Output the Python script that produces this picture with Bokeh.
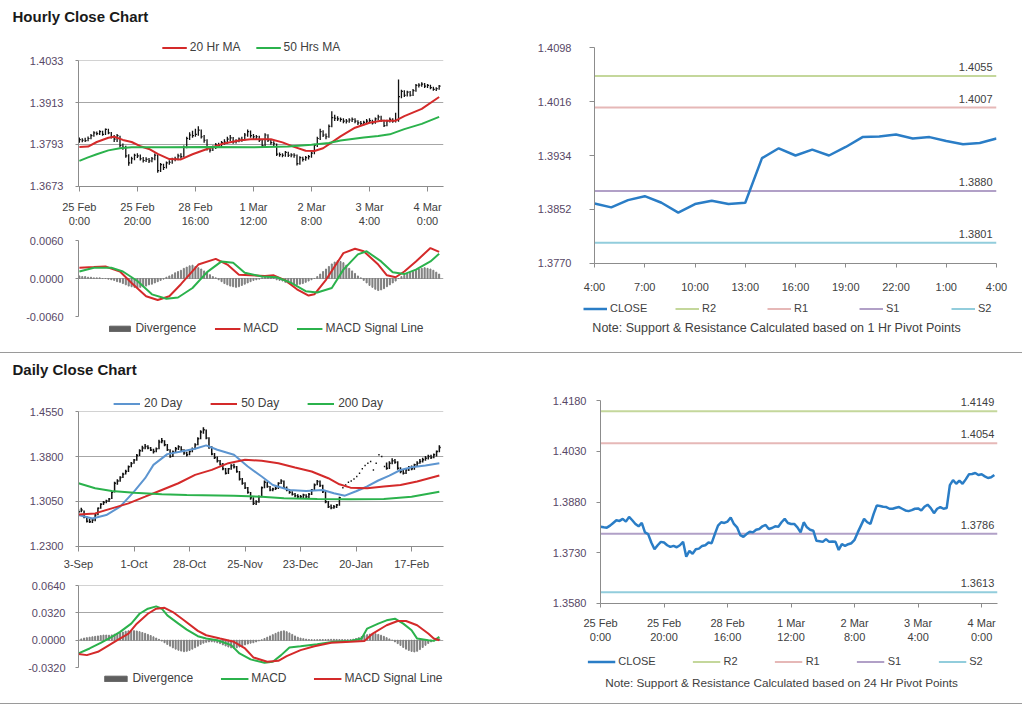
from bokeh.plotting import figure
from bokeh.models import (Range1d, FixedTicker, NumeralTickFormatter, Legend, LegendItem,
                          Div, Label)
from bokeh.embed import file_html
from bokeh.resources import INLINE

FONT = "Liberation Sans"

# ------------------------------------------------------------------ data
hour_tick_pos = [0, 20, 40, 60, 80, 100, 120]
hour_tick_labels = ["25 Feb\n0:00", "25 Feb\n20:00", "28 Feb\n16:00", "1 Mar\n12:00",
                    "2 Mar\n8:00", "3 Mar\n4:00", "4 Mar\n0:00"]

hourly_close = [
    1.3807, 1.3805, 1.3804, 1.3810, 1.3818, 1.3826, 1.3824, 1.3830, 1.3822, 1.3836,
    1.3826, 1.3815, 1.3808, 1.3818, 1.3790, 1.3785, 1.3760, 1.3740, 1.3752, 1.3762,
    1.3760, 1.3752, 1.3747, 1.3750, 1.3746, 1.3752, 1.3762, 1.3718, 1.3735, 1.3727,
    1.3740, 1.3742, 1.3750, 1.3752, 1.3760, 1.3758, 1.3785, 1.3810, 1.3820, 1.3818,
    1.3822, 1.3834, 1.3815, 1.3805, 1.3782, 1.3777, 1.3785, 1.3792, 1.3790, 1.3798,
    1.3800, 1.3808, 1.3812, 1.3800, 1.3803, 1.3808, 1.3807, 1.3820, 1.3830, 1.3818,
    1.3815, 1.3815, 1.3805, 1.3790, 1.3820, 1.3805, 1.3798, 1.3795, 1.3765, 1.3764,
    1.3762, 1.3770, 1.3762, 1.3763, 1.3762, 1.3738, 1.3755, 1.3750, 1.3755, 1.3758,
    1.3768, 1.3790, 1.3810, 1.3830, 1.3820, 1.3815, 1.3845, 1.3870, 1.3868, 1.3866,
    1.3865, 1.3860, 1.3860, 1.3863, 1.3865, 1.3860, 1.3855, 1.3853, 1.3856, 1.3860,
    1.3861, 1.3855, 1.3866, 1.3872, 1.3862, 1.3847, 1.3860, 1.3865, 1.3860, 1.3862,
    1.3930, 1.3945, 1.3934, 1.3943, 1.3934, 1.3947, 1.3962, 1.3963, 1.3966, 1.3960,
    1.3962, 1.3956, 1.3951, 1.3953, 1.3960]
hourly_high = [
    1.3813, 1.3811, 1.3812, 1.3816, 1.3823, 1.3831, 1.3830, 1.3834, 1.3832, 1.3839,
    1.3838, 1.3829, 1.3820, 1.3823, 1.3818, 1.3796, 1.3789, 1.3765, 1.3758, 1.3766,
    1.3768, 1.3764, 1.3757, 1.3756, 1.3754, 1.3757, 1.3767, 1.3765, 1.3740, 1.3738,
    1.3744, 1.3748, 1.3755, 1.3758, 1.3766, 1.3768, 1.3790, 1.3815, 1.3828, 1.3832,
    1.3838, 1.3845, 1.3836, 1.3820, 1.3808, 1.3788, 1.3790, 1.3797, 1.3798, 1.3803,
    1.3808, 1.3815, 1.3820, 1.3814, 1.3808, 1.3813, 1.3815, 1.3826, 1.3836, 1.3833,
    1.3823, 1.3820, 1.3818, 1.3808, 1.3825, 1.3822, 1.3808, 1.3802, 1.3796, 1.3770,
    1.3768, 1.3774, 1.3772, 1.3768, 1.3768, 1.3764, 1.3759, 1.3758, 1.3760, 1.3763,
    1.3772, 1.3795, 1.3815, 1.3838, 1.3834, 1.3824, 1.3850, 1.3888, 1.3878, 1.3874,
    1.3870, 1.3868, 1.3866, 1.3868, 1.3870, 1.3868, 1.3862, 1.3860, 1.3861, 1.3866,
    1.3868, 1.3864, 1.3870, 1.3878, 1.3875, 1.3864, 1.3864, 1.3870, 1.3868, 1.3884,
    1.3979, 1.3950, 1.3948, 1.3947, 1.3946, 1.3952, 1.3966, 1.3968, 1.3971, 1.3969,
    1.3966, 1.3964, 1.3958, 1.3957, 1.3963]
hourly_low = [
    1.3798, 1.3799, 1.3800, 1.3802, 1.3808, 1.3815, 1.3819, 1.3820, 1.3818, 1.3820,
    1.3822, 1.3810, 1.3800, 1.3800, 1.3784, 1.3778, 1.3755, 1.3732, 1.3738, 1.3748,
    1.3754, 1.3747, 1.3741, 1.3743, 1.3740, 1.3742, 1.3748, 1.3712, 1.3714, 1.3720,
    1.3724, 1.3735, 1.3738, 1.3745, 1.3748, 1.3752, 1.3756, 1.3782, 1.3806, 1.3812,
    1.3815, 1.3818, 1.3810, 1.3798, 1.3776, 1.3770, 1.3774, 1.3780, 1.3784, 1.3786,
    1.3792, 1.3795, 1.3803, 1.3795, 1.3796, 1.3799, 1.3801, 1.3804, 1.3815, 1.3812,
    1.3808, 1.3806, 1.3800, 1.3785, 1.3788, 1.3800, 1.3792, 1.3788, 1.3760, 1.3758,
    1.3756, 1.3758, 1.3757, 1.3756, 1.3755, 1.3733, 1.3735, 1.3744, 1.3746, 1.3750,
    1.3755, 1.3765, 1.3786, 1.3806, 1.3814, 1.3808, 1.3812, 1.3842, 1.3860, 1.3860,
    1.3858, 1.3854, 1.3853, 1.3855, 1.3857, 1.3854, 1.3849, 1.3847, 1.3848, 1.3851,
    1.3854, 1.3850, 1.3852, 1.3862, 1.3857, 1.3843, 1.3845, 1.3856, 1.3855, 1.3856,
    1.3858, 1.3925, 1.3929, 1.3930, 1.3930, 1.3932, 1.3944, 1.3956, 1.3958, 1.3955,
    1.3955, 1.3951, 1.3947, 1.3946, 1.3950]

hourly_yticks = [1.3673, 1.3793, 1.3913, 1.4033]
ma20_x = [0, 3, 6, 10, 12, 15, 18, 21, 24, 27, 31, 35, 39, 44, 49, 55, 59, 62, 66, 70,
          74, 78, 81, 84, 87, 90, 95, 100, 104, 109, 112, 118, 124]
ma20 = [1.3786, 1.3787, 1.3800, 1.3812, 1.3815, 1.3806, 1.3800, 1.3788, 1.3780, 1.3766,
        1.3751, 1.3750, 1.3765, 1.3780, 1.3794, 1.3804, 1.3808, 1.3808, 1.3808, 1.3799,
        1.3786, 1.3775, 1.3774, 1.3782, 1.3799, 1.3816, 1.3841, 1.3855, 1.3861, 1.3861,
        1.3874, 1.3895, 1.3929]
ma50_x = [0, 3, 6, 10, 14, 18, 30, 45, 60, 72, 80, 86, 90, 98, 103, 107, 112, 118, 124]
ma50 = [1.3746, 1.3756, 1.3765, 1.3776, 1.3782, 1.3785, 1.3785, 1.3786, 1.3785, 1.3787,
        1.3792, 1.3797, 1.3804, 1.3813, 1.3817, 1.3822, 1.3837, 1.3852, 1.3872]

hmacd_yticks = [-0.0060, 0.0, 0.0060]
hmacd_x = [0, 5, 9, 12, 14, 18, 23, 27, 31, 35, 41, 47, 51, 55, 59, 64, 67, 71, 75, 79,
           81, 85, 91, 95, 98, 103, 106, 109, 112, 116, 121, 124]
hmacd = [0.0017, 0.0018, 0.0019, 0.0014, 0.0011, -0.0007, -0.0028, -0.0034, -0.0028,
         -0.0009, 0.0022, 0.0031, 0.0022, 0.0006, 0.0005, 0.0004, 0.0005, -0.0003, -0.0017,
         -0.0027, -0.0025, -0.0002, 0.0040, 0.0047, 0.0043, 0.0022, 0.0005, 0.0002, 0.0011,
         0.0027, 0.0048, 0.0042]
hsig_x = [0, 5, 11, 15, 20, 25, 30, 34, 39, 44, 49, 53, 57, 63, 68, 73, 78, 82, 87, 91,
          96, 99, 104, 108, 112, 116, 121, 124]
hsig = [0.0011, 0.0017, 0.0017, 0.0011, -0.0004, -0.0025, -0.0032, -0.0030, -0.0015,
        0.0010, 0.0027, 0.0025, 0.0009, 0.0003, 0.0002, -0.0007, -0.0020, -0.0022, -0.0015,
        0.0014, 0.0038, 0.0043, 0.0027, 0.0010, 0.0007, 0.0014, 0.0027, 0.0039]
hdiv = [
    0.0004, 0.0003, 0.0003, 0.0002, 0.0002, 0.0001, 0.0001, 0.0001, 0.0000, 0.0000,
    -0.0001, -0.0002, -0.0003, -0.0005, -0.0006, -0.0008, -0.0010, -0.0012, -0.0013, -0.0014,
    -0.0015, -0.0014, -0.0013, -0.0012, -0.0010, -0.0009, -0.0007, -0.0005, -0.0003, -0.0001,
    0.0002, 0.0004, 0.0006, 0.0009, 0.0011, 0.0013, 0.0016, 0.0018, 0.0020, 0.0021,
    0.0019, 0.0017, 0.0015, 0.0012, 0.0009, 0.0006, 0.0003, 0.0001, -0.0002, -0.0005,
    -0.0008, -0.0010, -0.0012, -0.0013, -0.0014, -0.0013, -0.0011, -0.0009, -0.0007, -0.0005,
    -0.0003, -0.0002, -0.0001, 0.0001, 0.0002, 0.0002, 0.0001, 0.0000, -0.0002, -0.0003,
    -0.0004, -0.0006, -0.0007, -0.0008, -0.0009, -0.0010, -0.0009, -0.0008, -0.0006, -0.0004,
    -0.0002, 0.0000, 0.0003, 0.0007, 0.0011, 0.0015, 0.0019, 0.0023, 0.0026, 0.0028,
    0.0027, 0.0025, 0.0021, 0.0016, 0.0012, 0.0008, 0.0004, 0.0001, -0.0003, -0.0007,
    -0.0011, -0.0014, -0.0017, -0.0019, -0.0018, -0.0016, -0.0013, -0.0010, -0.0007, -0.0004,
    0.0000, 0.0003, 0.0005, 0.0007, 0.0009, 0.0011, 0.0013, 0.0015, 0.0016, 0.0017,
    0.0016, 0.0015, 0.0013, 0.0010, 0.0007]

pivot1h_tick_pos = [0, 3, 6, 9, 12, 15, 18, 21, 24]
pivot1h_tick_labels = ["4:00", "7:00", "10:00", "13:00", "16:00", "19:00", "22:00", "1:00", "4:00"]
pivot1h_yticks = [1.3770, 1.3852, 1.3934, 1.4016, 1.4098]
pivot1h_levels = [1.4055, 1.4007, 1.3880, 1.3801]
pivot24_yticks = [1.3580, 1.3730, 1.3880, 1.4030, 1.4180]
pivot24_levels = [1.4149, 1.4054, 1.3786, 1.3613]
pivot_names = ["R2", "R1", "S1", "S2"]

day_tick_pos = [0, 20, 40, 60, 80, 100, 120]
day_tick_labels = ["3-Sep", "1-Oct", "28-Oct", "25-Nov", "23-Dec", "20-Jan", "17-Feb"]
daily_yticks = [1.2300, 1.3050, 1.3800, 1.4550]
daily_close = [
    1.2879, 1.2907, 1.2795, 1.2722, 1.2711, 1.2739, 1.2823, 1.2935, 1.3002, 1.3035,
    1.3058, 1.3091, 1.3203, 1.3354, 1.3393, 1.3449, 1.3505, 1.3550, 1.3628, 1.3684,
    1.3740, 1.3818, 1.3896, 1.3941, 1.3969, 1.3941, 1.3907, 1.3885, 1.3930, 1.4041,
    1.4064, 1.3997, 1.3913, 1.3801, 1.3874, 1.3930, 1.3963, 1.3913, 1.3857, 1.3829,
    1.3885, 1.3930, 1.3997, 1.4097, 1.4209, 1.4248, 1.4108, 1.3952, 1.3840, 1.3784,
    1.3728, 1.3673, 1.3594, 1.3522, 1.3594, 1.3650, 1.3628, 1.3550, 1.3427, 1.3354,
    1.3281, 1.3203, 1.3113, 1.3019, 1.3046, 1.3130, 1.3281, 1.3371, 1.3298, 1.3242,
    1.3259, 1.3270, 1.3354, 1.3393, 1.3281, 1.3242, 1.3203, 1.3170, 1.3147, 1.3130,
    1.3130, 1.3158, 1.3130, 1.3170, 1.3242, 1.3326, 1.3382, 1.3315, 1.3214, 1.3046,
    1.2962, 1.2946, 1.2962, 1.2991, 1.3113, 1.3281, 1.3326, 1.3371, 1.3393, 1.3427,
    1.3466, 1.3522, 1.3594, 1.3650, 1.3689, 1.3718, 1.3577, 1.3689, 1.3829, 1.3801,
    1.3633, 1.3606, 1.3689, 1.3728, 1.3706, 1.3606, 1.3550, 1.3522, 1.3577, 1.3617,
    1.3594, 1.3661, 1.3689, 1.3718, 1.3745, 1.3773, 1.3801, 1.3784, 1.3829, 1.3885,
    1.3950]
daily_high = [
    1.2920, 1.2945, 1.2900, 1.2800, 1.2760, 1.2770, 1.2840, 1.2950, 1.3020, 1.3060,
    1.3080, 1.3110, 1.3220, 1.3380, 1.3420, 1.3470, 1.3530, 1.3580, 1.3650, 1.3710,
    1.3760, 1.3840, 1.3920, 1.3980, 1.4010, 1.3990, 1.3960, 1.3930, 1.3950, 1.4080,
    1.4110, 1.4070, 1.4010, 1.3920, 1.3900, 1.3960, 1.3990, 1.3970, 1.3920, 1.3880,
    1.3900, 1.3950, 1.4020, 1.4120, 1.4240, 1.4290, 1.4250, 1.4120, 1.3970, 1.3860,
    1.3800, 1.3740, 1.3690, 1.3610, 1.3610, 1.3670, 1.3680, 1.3640, 1.3560, 1.3440,
    1.3370, 1.3290, 1.3210, 1.3120, 1.3070, 1.3150, 1.3300, 1.3400, 1.3380, 1.3310,
    1.3280, 1.3300, 1.3370, 1.3420, 1.3400, 1.3300, 1.3260, 1.3220, 1.3190, 1.3170,
    1.3160, 1.3180, 1.3170, 1.3190, 1.3260, 1.3350, 1.3410, 1.3400, 1.3330, 1.3230,
    1.3060, 1.3000, 1.2990, 1.3010, 1.3130, 1.3281, 1.3326, 1.3371, 1.3393, 1.3427,
    1.3466, 1.3522, 1.3594, 1.3650, 1.3689, 1.3718, 1.3577, 1.3689, 1.3829, 1.3801,
    1.3633, 1.3700, 1.3720, 1.3770, 1.3760, 1.3720, 1.3620, 1.3580, 1.3600, 1.3640,
    1.3650, 1.3680, 1.3720, 1.3760, 1.3780, 1.3810, 1.3830, 1.3830, 1.3850, 1.3900,
    1.3990]
daily_low = [
    1.2850, 1.2870, 1.2770, 1.2700, 1.2690, 1.2690, 1.2720, 1.2820, 1.2930, 1.2990,
    1.3020, 1.3040, 1.3090, 1.3200, 1.3330, 1.3380, 1.3440, 1.3500, 1.3540, 1.3620,
    1.3680, 1.3730, 1.3810, 1.3880, 1.3920, 1.3920, 1.3890, 1.3850, 1.3870, 1.3920,
    1.4020, 1.3970, 1.3890, 1.3780, 1.3790, 1.3860, 1.3910, 1.3890, 1.3830, 1.3800,
    1.3820, 1.3870, 1.3920, 1.3990, 1.4090, 1.4180, 1.4090, 1.3930, 1.3820, 1.3760,
    1.3700, 1.3650, 1.3570, 1.3500, 1.3510, 1.3580, 1.3600, 1.3530, 1.3400, 1.3330,
    1.3260, 1.3180, 1.3080, 1.2990, 1.2990, 1.3030, 1.3120, 1.3270, 1.3280, 1.3220,
    1.3220, 1.3240, 1.3260, 1.3340, 1.3260, 1.3220, 1.3180, 1.3150, 1.3120, 1.3100,
    1.3100, 1.3110, 1.3100, 1.3110, 1.3160, 1.3230, 1.3320, 1.3290, 1.3190, 1.3020,
    1.2940, 1.2920, 1.2930, 1.2940, 1.2980, 1.3281, 1.3326, 1.3371, 1.3393, 1.3427,
    1.3466, 1.3522, 1.3594, 1.3650, 1.3689, 1.3718, 1.3577, 1.3689, 1.3829, 1.3801,
    1.3633, 1.3580, 1.3590, 1.3670, 1.3680, 1.3580, 1.3520, 1.3500, 1.3510, 1.3560,
    1.3570, 1.3580, 1.3640, 1.3680, 1.3700, 1.3730, 1.3750, 1.3760, 1.3770, 1.3800,
    1.3870]
d20_x = [0, 5, 10, 15, 20, 24, 27, 32, 37, 42, 46, 50, 56, 61, 66, 70, 76, 82, 88, 92,
         96, 100, 104, 108, 112, 116, 120, 125, 130]
d20 = [1.2823, 1.2767, 1.2823, 1.2963, 1.3214, 1.3438, 1.3661, 1.3840, 1.3885, 1.3930,
       1.3986, 1.3913, 1.3829, 1.3633, 1.3466, 1.3326, 1.3242, 1.3225, 1.3242, 1.3186,
       1.3147, 1.3220, 1.3300, 1.3400, 1.3480, 1.3575, 1.3620, 1.3650, 1.3689]
d50_x = [0, 6, 12, 18, 24, 30, 36, 42, 48, 54, 60, 66, 72, 78, 84, 90, 94, 98, 104, 110,
         116, 122, 130]
d50 = [1.2834, 1.2851, 1.2935, 1.3019, 1.3130, 1.3242, 1.3354, 1.3494, 1.3577, 1.3689,
       1.3745, 1.3728, 1.3689, 1.3617, 1.3550, 1.3438, 1.3337, 1.3281, 1.3270, 1.3298,
       1.3326, 1.3382, 1.3483]
d200_x = [0, 6, 12, 20, 30, 39, 56, 66, 74, 86, 98, 110, 120, 130]
d200 = [1.3354, 1.3270, 1.3225, 1.3197, 1.3170, 1.3158, 1.3147, 1.3130, 1.3102, 1.3091,
        1.3086, 1.3091, 1.3130, 1.3214]

dmacd_yticks = [-0.0320, 0.0, 0.0320, 0.0640]
dmacd_x = [0, 4, 8, 12, 15, 19, 22, 25, 28, 30, 32, 36, 39, 43, 46, 50, 55, 58, 62, 67,
           70, 73, 76, 80, 86, 92, 98, 102, 104, 108, 111, 114, 117, 120, 122, 126, 128, 130]
dmacd = [-0.0155, -0.0097, -0.0031, 0.0039, 0.0097, 0.0194, 0.0310, 0.0369, 0.0396, 0.0369,
         0.0291, 0.0194, 0.0124, 0.0047, 0.0019, 0.0000, -0.0058, -0.0155, -0.0225, -0.0264,
         -0.0252, -0.0175, -0.0085, -0.0070, -0.0047, -0.0019, -0.0008, 0.0019, 0.0136, 0.0194,
         0.0233, 0.0252, 0.0194, 0.0116, 0.0019, 0.0000, -0.0008, 0.0039]
dsig_x = [0, 3, 7, 10, 14, 18, 21, 25, 28, 31, 34, 38, 43, 46, 51, 56, 60, 63, 68, 72,
          75, 80, 85, 91, 98, 103, 106, 111, 115, 118, 122, 126, 128, 130]
dsig = [-0.0163, -0.0175, -0.0136, -0.0078, 0.0000, 0.0078, 0.0194, 0.0310, 0.0369, 0.0380,
        0.0330, 0.0233, 0.0109, 0.0058, 0.0019, -0.0019, -0.0097, -0.0202, -0.0252, -0.0241,
        -0.0186, -0.0116, -0.0070, -0.0031, -0.0019, -0.0008, 0.0078, 0.0175, 0.0225, 0.0225,
        0.0175, 0.0078, 0.0019, 0.0000]
ddiv = [
    0.0008, 0.0015, 0.0025, 0.0030, 0.0035, 0.0040, 0.0045, 0.0050, 0.0055, 0.0060,
    0.0060, 0.0058, 0.0062, 0.0070, 0.0078, 0.0085, 0.0095, 0.0105, 0.0110, 0.0115,
    0.0112, 0.0108, 0.0100, 0.0090, 0.0080, 0.0068, 0.0055, 0.0040, 0.0025, 0.0010,
    -0.0010, -0.0030, -0.0050, -0.0070, -0.0090, -0.0105, -0.0118, -0.0128, -0.0135, -0.0130,
    -0.0120, -0.0105, -0.0088, -0.0070, -0.0050, -0.0035, -0.0025, -0.0020, -0.0018, -0.0022,
    -0.0030, -0.0040, -0.0055, -0.0068, -0.0080, -0.0090, -0.0095, -0.0090, -0.0080, -0.0068,
    -0.0055, -0.0045, -0.0035, -0.0030, -0.0020, -0.0008, 0.0005, 0.0020, 0.0035, 0.0050,
    0.0065, 0.0080, 0.0095, 0.0105, 0.0110, 0.0100, 0.0085, 0.0068, 0.0050, 0.0035,
    0.0025, 0.0018, 0.0012, 0.0008, 0.0006, 0.0005, 0.0006, 0.0007, 0.0008, 0.0008,
    0.0009, 0.0010, 0.0010, 0.0009, 0.0008, 0.0007, 0.0006, 0.0006, 0.0008, 0.0012,
    0.0020, 0.0030, 0.0042, 0.0055, 0.0065, 0.0072, 0.0078, 0.0075, 0.0068, 0.0058,
    0.0045, 0.0030, 0.0015, 0.0000, -0.0020, -0.0040, -0.0062, -0.0085, -0.0105, -0.0120,
    -0.0132, -0.0138, -0.0130, -0.0110, -0.0085, -0.0060, -0.0038, -0.0020, -0.0008, 0.0005,
    0.0015]

# ------------------------------------------------------------------ styles
AX = "#8c8c8c"
GRID = "#a6a6a6"
TXT = "#404040"
YTXT = "#574766"
RED = "#d42a2a"
GREEN = "#2bb24c"
BLUE20 = "#5d95d0"
CLOSE_C = "#2a7dc6"
DIV_C = "#7f7f7f"
DIV_KEY = "#5f5f5f"
PIVOT_COLORS = ["#c4d79b", "#e6b8b7", "#b1a0c7", "#92cddc"]

hours = list(range(len(hourly_close)))
days = list(range(len(daily_close)))


def pos(left, top):
    return {"position": "absolute", "left": f"{left}px", "top": f"{top}px"}


def base(left, top, width, height, xr, yr, bl, br, bt, bb, x_axis=True):
    p = figure(width=width, height=height, x_range=xr, y_range=yr,
               output_backend="svg", toolbar_location=None,
               min_border_left=bl, min_border_right=br,
               min_border_top=bt, min_border_bottom=bb,
               x_axis_type="linear" if x_axis else None,
               styles=pos(left, top))
    p.outline_line_color = None
    p.background_fill_color = "white"
    p.border_fill_color = None
    return p


def style_axis(ax, color, tick_out, standoff):
    ax.axis_line_color = AX
    ax.major_tick_line_color = AX
    ax.major_tick_out = tick_out
    ax.major_tick_in = 0
    ax.minor_tick_line_color = None
    ax.major_label_text_font = FONT
    ax.major_label_text_font_size = "11px"
    ax.major_label_text_color = color
    ax.major_label_standoff = standoff


def y_setup(p, ticks, grid=True, tick_out=3, standoff=12):
    p.yaxis.ticker = FixedTicker(ticks=ticks)
    p.yaxis.formatter = NumeralTickFormatter(format="0.0000")
    style_axis(p.yaxis[0], YTXT, tick_out, standoff)
    if grid:
        p.ygrid.ticker = FixedTicker(ticks=ticks)
        p.ygrid.grid_line_color = GRID
    else:
        p.ygrid.visible = False


def x_setup(p, tpos, labels, tick_out, standoff):
    p.xaxis.ticker = FixedTicker(ticks=tpos)
    p.xaxis.major_label_overrides = {k: v for k, v in zip(tpos, labels)}
    style_axis(p.xaxis[0], TXT, tick_out, standoff)
    p.xgrid.visible = False


def blank(left, top, width, height, xr=None, yr=None):
    f = figure(width=width, height=height,
               x_range=xr if xr is not None else Range1d(0, 1),
               y_range=yr if yr is not None else Range1d(0, 1),
               output_backend="svg", toolbar_location=None, min_border=0,
               x_axis_type=None, y_axis_type=None, styles=pos(left, top))
    f.outline_line_color = None
    f.border_fill_color = None
    f.background_fill_color = None
    return f


def text_fig(text, left, top, width, height=20, size="11px", bold=False, align="left"):
    f = blank(left, top, width, height)
    f.add_layout(Label(x=0.5 if align == "center" else 0, y=0.5, text=text,
                       text_align=align, text_font=FONT, text_font_size=size,
                       text_font_style="bold" if bold else "normal",
                       text_color="#1a1a1a" if bold else TXT, text_baseline="middle"))
    return f


def legend_fig(cx, cy, entries, glyph_width=25, spacing=18, label_width=0,
               standoff=3, size="12px", width=480):
    """A key strip.  entries: (label, kind, colour, width, xs, ys) - each swatch is the
    chart's own series, drawn into a y window that lies above all of its values so that
    only the key shows."""
    f = blank(cx - width // 2, cy - 8, width, 16, yr=Range1d(10, 11))
    items = []
    for label, kind, color, lw, xs, ys in entries:
        if kind == "bar":
            r = f.vbar(x=xs, top=ys, bottom=0, width=0.5, fill_color=color, line_color=color)
        else:
            r = f.line(x=xs, y=ys, line_color=color, line_width=lw)
        items.append(LegendItem(label=label, renderers=[r]))
    f.add_layout(Legend(items=items, orientation="horizontal", location="center",
                        label_text_font=FONT, label_text_font_size=size,
                        label_text_color=TXT, glyph_width=glyph_width, glyph_height=7,
                        label_height=12, label_width=label_width, label_standoff=standoff,
                        padding=0, spacing=spacing, margin=0,
                        border_line_color=None, background_fill_alpha=0))
    return f


def level_labels(p, x, levels, x_offset):
    for lvl in levels:
        p.add_layout(Label(x=x, y=lvl, text=f"{lvl:.4f}", text_align="right",
                           text_baseline="middle", x_offset=x_offset, y_offset=9,
                           text_font=FONT, text_font_size="11px", text_color=TXT))


# ------------------------------------------------------------------ hourly main
hx = Range1d(-0.3, 125.5)
p1 = base(8, 32, 502, 204, hx, Range1d(1.36725, 1.40335), 70, 67, 28, 50)
y_setup(p1, hourly_yticks)
x_setup(p1, hour_tick_pos, hour_tick_labels, 5, 9)
p1.segment(x0=hours, y0=hourly_low, x1=hours, y1=hourly_high, line_color="#111111", line_width=1.3)
p1.segment(x0=hours, y0=hourly_close, x1=[h + 0.5 for h in hours], y1=hourly_close,
           line_color="#111111", line_width=1.2)
p1.line(ma20_x, ma20, line_color=RED, line_width=2)
p1.line(ma50_x, ma50, line_color=GREEN, line_width=2)
lg1 = legend_fig(251, 47, [("20 Hr MA", "line", RED, 2, ma20_x, ma20),
                           ("50 Hrs MA", "line", GREEN, 2, ma50_x, ma50)], spacing=15)

# ------------------------------------------------------------------ hourly macd
p2 = base(8, 236, 502, 108, hx, Range1d(-0.0060, 0.0060), 70, 67, 4, 28, x_axis=False)
y_setup(p2, hmacd_yticks)
p2.vbar(x=hours, top=hdiv, bottom=0, width=0.35, color=DIV_C)
p2.line(hmacd_x, hmacd, line_color=RED, line_width=2)
p2.line(hsig_x, hsig, line_color=GREEN, line_width=2)
lg2 = legend_fig(265, 328, [("Divergence", "bar", DIV_KEY, 0, hours, hdiv),
                            ("MACD", "line", RED, 2, hmacd_x, hmacd),
                            ("MACD Signal Line", "line", GREEN, 2, hsig_x, hsig)],
                 glyph_width=26, spacing=18)

# ------------------------------------------------------------------ 1 hr pivot
pv_close = hourly_close[-25:]
pv_x = list(range(len(pv_close)))
p3 = base(510, 8, 506, 336, Range1d(0, 24), Range1d(1.37695, 1.40985), 84, 20, 39, 81)
y_setup(p3, pivot1h_yticks, grid=False, tick_out=5, standoff=18)
x_setup(p3, pivot1h_tick_pos, pivot1h_tick_labels, 4, 13)
lv1_x = [p3.x_range.start, p3.x_range.end]
for lvl, col in zip(pivot1h_levels, PIVOT_COLORS):
    p3.line(lv1_x, [lvl, lvl], line_color=col, line_width=2)
level_labels(p3, pv_x[-1], pivot1h_levels, -4)
p3.line(pv_x, pv_close, line_color=CLOSE_C, line_width=2.5)
lg3 = legend_fig(808, 308, [("CLOSE", "line", CLOSE_C, 2.5, pv_x, pv_close)] +
                 [(n, "line", c, 2, lv1_x, [v, v])
                  for n, c, v in zip(pivot_names, PIVOT_COLORS, pivot1h_levels)],
                 glyph_width=24, spacing=10, label_width=55, size="11px")
note3 = text_fig("Note: Support & Resistance Calculated based on 1 Hr Pivot Points",
                 526, 317, 500, size="12.5px", align="center")

# ------------------------------------------------------------------ daily main
dx = Range1d(0, 131.5)
p4 = base(8, 377, 502, 201, dx, Range1d(1.2299, 1.4551), 70, 67, 34, 32)
y_setup(p4, daily_yticks)
x_setup(p4, day_tick_pos, day_tick_labels, 5, 6)
p4.segment(x0=days, y0=daily_low, x1=days, y1=daily_high, line_color="#111111", line_width=1.5)
p4.segment(x0=days, y0=daily_close, x1=[d + 0.5 for d in days], y1=daily_close,
           line_color="#111111", line_width=1.5)
p4.line(d20_x, d20, line_color=BLUE20, line_width=2)
p4.line(d50_x, d50, line_color=RED, line_width=2)
p4.line(d200_x, d200, line_color=GREEN, line_width=2)
lg4 = legend_fig(248, 403, [("20 Day", "line", BLUE20, 2, d20_x, d20),
                            ("50 Day", "line", RED, 2, d50_x, d50),
                            ("200 Day", "line", GREEN, 2, d200_x, d200)],
                 glyph_width=27, standoff=4, spacing=28)

# ------------------------------------------------------------------ daily macd
p5 = base(8, 578, 502, 112, dx, Range1d(-0.0320, 0.0641), 70, 67, 7, 23, x_axis=False)
y_setup(p5, dmacd_yticks, tick_out=3, standoff=10)
p5.vbar(x=days, top=ddiv, bottom=0, width=0.35, color=DIV_C)
p5.line(dmacd_x, dmacd, line_color=GREEN, line_width=2)
p5.line(dsig_x, dsig, line_color=RED, line_width=2)
lg5 = legend_fig(272, 678, [("Divergence", "bar", DIV_KEY, 0, days, ddiv),
                            ("MACD", "line", GREEN, 2, dmacd_x, dmacd),
                            ("MACD Signal Line", "line", RED, 2, dsig_x, dsig)],
                 glyph_width=28, spacing=27)

# ------------------------------------------------------------------ 24 hr pivot
P6_LEFT, P6_TOP, P6_W, P6_H = 510, 353, 506, 337
P6_BL, P6_BR, P6_BT, P6_BB = 90, 19, 47, 87
p6 = base(P6_LEFT, P6_TOP, P6_W, P6_H, Range1d(0, 125), Range1d(1.35795, 1.41805),
          P6_BL, P6_BR, P6_BT, P6_BB)
y_setup(p6, pivot24_yticks, grid=False, tick_out=4, standoff=10)
x_setup(p6, hour_tick_pos, hour_tick_labels, 4, 9)
lv24_x = [p6.x_range.start, p6.x_range.end]
for lvl, col in zip(pivot24_levels, PIVOT_COLORS):
    p6.line(lv24_x, [lvl, lvl], line_color=col, line_width=2)
p6.line(hours, hourly_close, line_color=CLOSE_C, line_width=2.5)

# level values drawn on a transparent layer that shares p6's scales but reaches a
# little above its frame, so the top value is not cut by the frame edge
frame_w = P6_W - P6_BL - P6_BR
frame_h = P6_H - P6_BT - P6_BB
EXT = 20
y_lo, y_hi = p6.y_range.start, p6.y_range.end
ov6 = blank(P6_LEFT + P6_BL, P6_TOP + P6_BT - EXT, frame_w, frame_h + EXT,
            xr=p6.x_range, yr=Range1d(y_lo, y_hi + EXT * (y_hi - y_lo) / frame_h))
level_labels(ov6, hours[-1], pivot24_levels, 0)

lg6 = legend_fig(785, 661, [("CLOSE", "line", CLOSE_C, 2.5, hours, hourly_close)] +
                 [(n, "line", c, 2, lv24_x, [v, v])
                  for n, c, v in zip(pivot_names, PIVOT_COLORS, pivot24_levels)],
                 glyph_width=28, spacing=37, size="11px")
note6 = text_fig("Note: Support & Resistance Calculated based on 24 Hr Pivot Points",
                 531, 672, 500, size="11.75px", align="center")

# ------------------------------------------------------------------ page
t1 = text_fig("Hourly Close Chart", 12, 6, 300, height=20, size="15px", bold=True)
t2 = text_fig("Daily Close Chart", 12, 359, 300, height=20, size="15px", bold=True)
sep1 = Div(text="", width=1022, height=1, margin=0,
           styles={**pos(0, 352), "background-color": "#9a9a9a"})
sep2 = Div(text="", width=1022, height=1, margin=0,
           styles={**pos(0, 703), "background-color": "#9a9a9a"})

page = [p1, p2, p3, p4, p5, p6, ov6, lg1, lg2, lg3, lg4, lg5, lg6, note3, note6,
        t1, t2, sep1, sep2]
open("out.html", "w").write(file_html(page, INLINE))
